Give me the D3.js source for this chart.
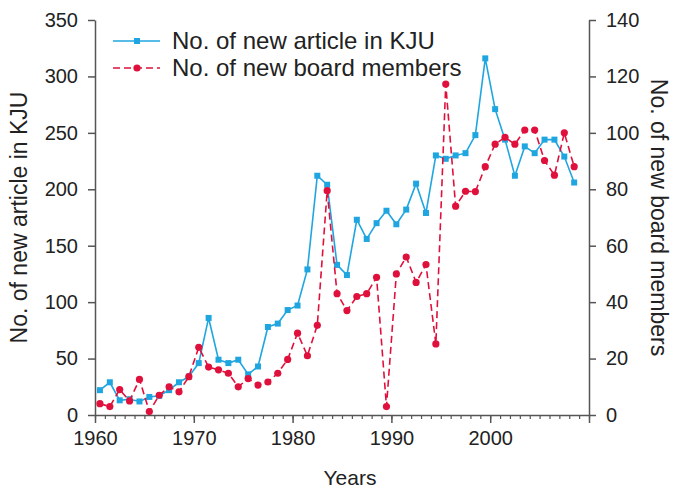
<!DOCTYPE html>
<html>
<head>
<meta charset="utf-8">
<script src="https://cdn.jsdelivr.net/npm/d3@7"></script>
<style>
  body { margin: 0; background: #fff; }
  svg text { font-family: "Liberation Sans", Arial, sans-serif; fill: #222; }
</style>
</head>
<body>
<div id="chart"></div>
<script>
// one value per year, 1960 - 2008
const years = [1960, 1961, 1962, 1963, 1964, 1965, 1966, 1967, 1968, 1969,
    1970, 1971, 1972, 1973, 1974, 1975, 1976, 1977, 1978, 1979,
    1980, 1981, 1982, 1983, 1984, 1985, 1986, 1987, 1988, 1989,
    1990, 1991, 1992, 1993, 1994, 1995, 1996, 1997, 1998, 1999,
    2000, 2001, 2002, 2003, 2004, 2005, 2006, 2007, 2008];
const articles = [22, 29, 13, 14, 12, 16, 17, 22, 29, 34,
    46, 86, 49, 46, 49, 36, 43, 78, 81, 93,
    97, 129, 212, 204, 133, 124, 173, 156, 170, 181,
    169, 182, 205, 179, 230, 227, 230, 232, 248, 316,
    271, 244, 212, 238, 232, 244, 244, 229, 206];
const members = [4, 3, 9, 5, 12.6, 1.2, 7, 10, 8.2, 13.6,
    24, 17, 16, 14.8, 10, 12.9, 10.6, 11.7, 14.8, 19.7,
    29, 21, 31.8, 79.5, 43, 37, 42, 43, 48.8, 3,
    50, 56, 47, 53.3, 25.2, 117.3, 74, 79.3, 79.2, 88,
    96, 98.4, 96, 101, 101, 90.2, 85, 100, 88];
const xTicks = [1960, 1970, 1980, 1990, 2000, 2010];
const leftTicks = [0, 50, 100, 150, 200, 250, 300, 350];
const rightTicks = [0, 20, 40, 60, 80, 100, 120, 140];
const seriesNames = ['No. of new article in KJU', 'No. of new board members'];

const W = 681, H = 490;
const margin = { top: 20, right: 92, bottom: 75, left: 95 };
const width = W - margin.left - margin.right;
const height = H - margin.top - margin.bottom;
const blue = '#1fa6e0', red = '#e0103c', axisColor = '#555';
const tickFont = 20, titleFont = 23;

const svg = d3.select('#chart').append('svg')
    .attr('width', W)
    .attr('height', H);
const g = svg.append('g')
    .attr('transform', `translate(${margin.left},${margin.top})`);

const x = d3.scaleLinear().domain([1960, 2010]).range([0, width]);
const yL = d3.scaleLinear().domain([0, 350]).range([height, 0]);
const yR = d3.scaleLinear().domain([0, 140]).range([height, 0]);

const data = years.map((yr, i) => ({ year: yr, a: articles[i], m: members[i] }));
// points sit in the middle of their year
const px = d => x(d.year + 0.5);

// axes
function styleAxis(sel) {
    sel.select('.domain').attr('stroke', axisColor).attr('stroke-width', 1.5);
    sel.selectAll('.tick line').attr('stroke', axisColor).attr('stroke-width', 1.5);
    sel.selectAll('.tick text').style('font-size', tickFont + 'px').attr('fill', '#222');
}

// minor year ticks on x
g.append('g')
    .attr('transform', `translate(0,${height})`)
    .call(d3.axisBottom(x).tickValues(d3.range(1960, 2011)).tickSize(4).tickFormat(''))
    .call(sel => {
        sel.select('.domain').remove();
        sel.selectAll('.tick line').attr('stroke', axisColor).attr('stroke-width', 1.2);
    });

g.append('g')
    .attr('transform', `translate(0,${height})`)
    .call(d3.axisBottom(x).tickValues(xTicks).tickSize(8).tickSizeOuter(0)
        .tickFormat(d => d === 2010 ? '' : d).tickPadding(8))
    .call(styleAxis);

g.append('g')
    .call(d3.axisLeft(yL).tickValues(leftTicks).tickSize(7).tickSizeOuter(0).tickPadding(10))
    .call(styleAxis);

g.append('g')
    .attr('transform', `translate(${width},0)`)
    .call(d3.axisRight(yR).tickValues(rightTicks).tickSize(7).tickSizeOuter(0).tickPadding(10))
    .call(styleAxis);

// axis titles
g.append('text')
    .attr('x', width / 2 + 8)
    .attr('y', height + 70)
    .attr('text-anchor', 'middle')
    .style('font-size', (titleFont - 2) + 'px')
    .text('Years');

g.append('text')
    .attr('transform', 'rotate(-90)')
    .attr('x', -height / 2)
    .attr('y', -68)
    .attr('text-anchor', 'middle')
    .style('font-size', titleFont + 'px')
    .text(seriesNames[0]);

g.append('text')
    .attr('transform', 'rotate(90)')
    .attr('x', height / 2)
    .attr('y', -(width + 62))
    .attr('text-anchor', 'middle')
    .style('font-size', titleFont + 'px')
    .text('No. of new board members');

// articles: solid blue with squares
g.append('path')
    .datum(data)
    .attr('fill', 'none')
    .attr('stroke', blue)
    .attr('stroke-width', 1.6)
    .attr('d', d3.line().x(px).y(d => yL(d.a)));

g.selectAll('.sq')
    .data(data)
    .enter()
    .append('rect')
    .attr('class', 'sq')
    .attr('x', d => px(d) - 3)
    .attr('y', d => yL(d.a) - 3)
    .attr('width', 6)
    .attr('height', 6)
    .attr('fill', blue);

// board members: dashed red with circles
g.append('path')
    .datum(data)
    .attr('fill', 'none')
    .attr('stroke', red)
    .attr('stroke-width', 1.6)
    .attr('stroke-dasharray', '7,4')
    .attr('d', d3.line().x(px).y(d => yR(d.m)));

g.selectAll('.dot')
    .data(data)
    .enter()
    .append('circle')
    .attr('class', 'dot')
    .attr('cx', px)
    .attr('cy', d => yR(d.m))
    .attr('r', 3.6)
    .attr('fill', red);

// legend
const legend = g.append('g')
    .attr('transform', 'translate(18,21)');

[0, 1].forEach(i => {
    const row = legend.append('g').attr('transform', `translate(0,${i * 27})`);
    const c = i === 0 ? blue : red;
    row.append('line')
        .attr('x1', 0).attr('x2', 47)
        .attr('stroke', c)
        .attr('stroke-width', 1.6)
        .attr('stroke-dasharray', i === 0 ? null : '7,4');
    if (i === 0) {
        row.append('rect').attr('x', 21).attr('y', -3).attr('width', 6).attr('height', 6).attr('fill', c);
    } else {
        row.append('circle').attr('cx', 24).attr('r', 3.6).attr('fill', c);
    }
    row.append('text')
        .attr('x', 59)
        .attr('dy', '0.35em')
        .style('font-size', '24px')
        .text(seriesNames[i]);
});
</script>
</body>
</html>
